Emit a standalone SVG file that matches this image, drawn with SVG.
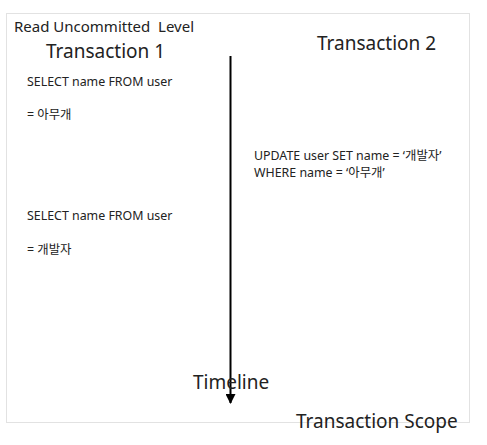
<svg xmlns="http://www.w3.org/2000/svg" width="487" height="445" viewBox="0 0 487 445">
<style>
text{font-family:"Noto Sans","Noto Sans CJK KR",sans-serif;fill:#222;}
.s{font-size:12.4px;}
.m{font-size:15px;}
.l{font-size:19px;}
</style>
<defs>
<marker id="ah" markerWidth="10" markerHeight="10" refX="9" refY="5" orient="auto" markerUnits="userSpaceOnUse">
<path d="M0,0 L10,5 L0,10 z" fill="#000"/>
</marker>
</defs>
<rect width="487" height="445" fill="#fff"/>
<g id="scope">
<rect x="6.5" y="13.5" width="463" height="409" fill="none" stroke="#e2e2e2" stroke-width="1"/>
<text class="l" x="296" y="428">Transaction Scope</text>
</g>
<g id="title"><text class="m" x="14" y="32" xml:space="preserve">Read Uncommitted  Level</text></g>
<g id="tx1">
<text class="l" x="46" y="58">Transaction 1</text>
<text class="s" x="27" y="86">SELECT name FROM user</text>
<text class="s" x="27" y="119">= 아무개</text>
<text class="s" x="27" y="220">SELECT name FROM user</text>
<text class="s" x="27" y="254">= 개발자</text>
</g>
<g id="tx2">
<text class="l" x="317" y="50">Transaction 2</text>
<text class="s" x="254" y="160">UPDATE user SET name = ‘개발자’</text>
<text class="s" x="254" y="177">WHERE name = ‘아무개’</text>
</g>
<g id="connectors">
<line x1="230.5" y1="56" x2="230.5" y2="403" stroke="#000" stroke-width="2" marker-end="url(#ah)"/>
</g>
<g id="timeline"><text class="l" x="193" y="389">Timeline</text></g>
</svg>
